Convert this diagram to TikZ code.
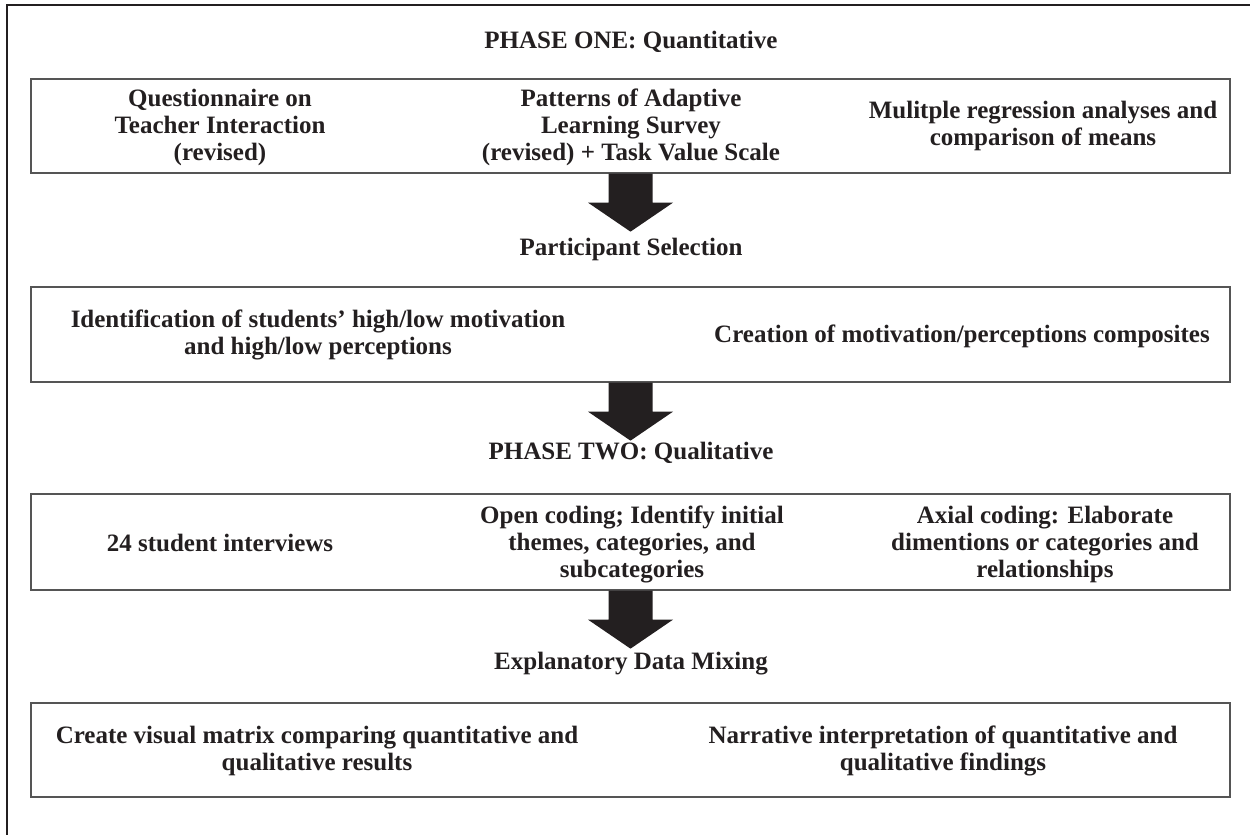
\documentclass[tikz,border=0pt]{standalone}
\usepackage{fontspec}
\setmainfont{Liberation Serif}
\usetikzlibrary{calc}
\definecolor{ink}{HTML}{231F20}
\definecolor{boxline}{HTML}{555555}
\tikzset{
  frame/.style={draw=ink, line width=1.8pt},
  stagebox/.style={draw=boxline, line width=1.3pt, minimum width=1199pt, inner sep=0pt},
  txt/.style={text=ink, font=\fontsize{25}{27}\selectfont\bfseries, align=center, inner sep=0pt},
  blockarrow/.style={fill=ink, draw=none}
}
\newcommand{\downarrowblock}[1]{%
  \fill[blockarrow] (#1) ++(-22,0) -- ++(0,29) -- ++(-20.5,0) -- ++(42.5,29) -- ++(42.5,-29) -- ++(-20.5,0) -- ++(0,-29) -- cycle;}
\begin{document}
\begin{tikzpicture}[x=1pt,y=-1pt]
\useasboundingbox (0,0) rectangle (1250,835);
% outer frame (open at right and bottom)
\coordinate (fbl) at (7,835);
\coordinate (ftl) at (7,5);
\coordinate (ftr) at (1250,5);
\draw[frame] (fbl) -- (ftl) -- (ftr);

% boxes
\node[stagebox, minimum height=94pt] (b1) at (630.5,126) {};
\node[stagebox, minimum height=95pt] (b2) at (630.5,334.5) {};
\node[stagebox, minimum height=96pt] (b3) at (630.5,542) {};
\node[stagebox, minimum height=94pt] (b4) at (630.5,750) {};

% headings
\node[txt] (ph1) at (631,42) {PHASE ONE: Quantitative};
\node[txt] (psel) at (631,249) {Participant Selection};
\node[txt] (ph2) at (631,453) {PHASE TWO: Qualitative};
\node[txt] (mix) at (631,664) {Explanatory Data Mixing};

% box 1
\node[txt] (q1) at (220,127) {Questionnaire on\\Teacher Interaction\\(revised)};
\node[txt] (q2) at (631,127) {Patterns of Adaptive\\Learning Survey\\(revised) + Task Value Scale};
\node[txt] (q3) at (1043,126) {Mulitple regression analyses and\\comparison of means};

% box 2
\node[txt] (s1) at (318,335) {Identification of students' high/low motivation\\and high/low perceptions};
\node[txt] (s2) at (962,336) {Creation of motivation/perceptions composites};

% box 3
\node[txt] (c1) at (220,543) {24 student interviews};
\node[txt] (c2) at (632,544) {Open coding; Identify initial\\themes, categories, and\\subcategories};
\node[txt] (c3) at (1045,544) {Axial coding: Elaborate\\dimentions or categories and\\relationships};

% box 4
\node[txt] (m1) at (317,751) {Create visual matrix comparing quantitative and\\qualitative results};
\node[txt] (m2) at (943,751) {Narrative interpretation of quantitative and\\qualitative findings};

% block arrows
\downarrowblock{b1.south}
\downarrowblock{b2.south}
\downarrowblock{b3.south}
\end{tikzpicture}
\end{document}
